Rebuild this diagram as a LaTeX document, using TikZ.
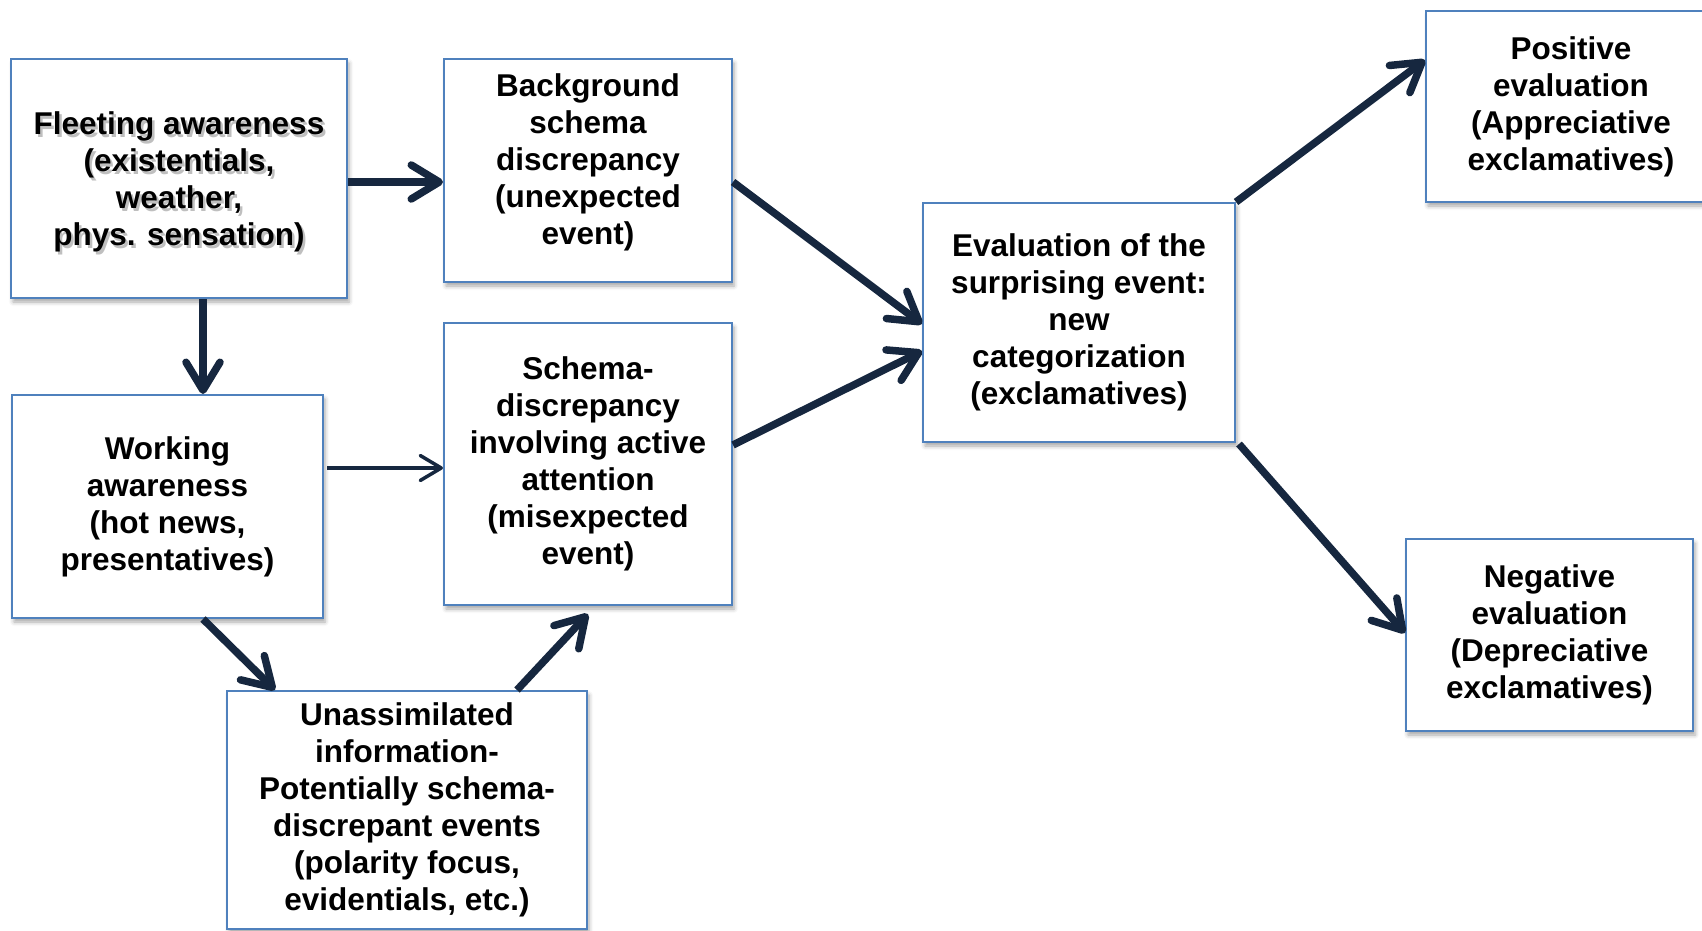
\documentclass[tikz,border=0pt]{standalone}
\usepackage{fontspec}
\setmainfont{Liberation Sans}
\usetikzlibrary{arrows.meta,calc,shadows.blur}

\definecolor{boxc}{HTML}{4F81BD}
\definecolor{arrowc}{HTML}{16273F}

\tikzset{
  label font/.style={font=\fontsize{31.5}{37}\selectfont\bfseries},
  caption/.style={align=center, text=black, label font, inner sep=0pt},
  stage/.style={draw=boxc, line width=2pt, fill=white, inner sep=0pt,
    align=center, text=black, label font,
    blur shadow={shadow xshift=2pt, shadow yshift=-4pt,
                 shadow blur radius=4pt, shadow opacity=35}},
  flow/.style={draw=arrowc, line width=7.5pt,
    -{Straight Barb[length=28pt, width=34pt, line cap=round, line join=round]}},
  thinflow/.style={draw=arrowc, line width=3.5pt,
    -{Straight Barb[length=21pt, width=25pt, line cap=round, line join=round]}},
}

\begin{document}
\begin{tikzpicture}[x=1pt, y=-1pt]
  \useasboundingbox (0,0) rectangle (1702,931);
  \clip (0,0) rectangle (1702,931);

  % stages
  \node[stage, minimum width=336pt, minimum height=239pt] (b1) at (179,178.5) {};
  % first title carries a soft text shadow
  \node[caption, text=black!55, opacity=0.45] (b1shade) at (181.5,184.5)
    {Fleeting awareness\\(existentials,\\weather,\\phys. sensation)};
  \node[caption] (b1text) at (179,182)
    {Fleeting awareness\\(existentials,\\weather,\\phys. sensation)};

  \node[stage, minimum width=288pt, minimum height=223pt] (b2) at (588,170.5) {};
  \node[caption] (b2text) at (588,162.5)
    {Background\\schema\\discrepancy\\(unexpected\\event)};

  \node[stage, minimum width=311pt, minimum height=223pt] (b3) at (167.5,506.5)
    {Working\\awareness\\(hot news,\\presentatives)};
  \node[stage, minimum width=288pt, minimum height=282pt] (b4) at (588,464)
    {Schema-\\discrepancy\\involving active\\attention\\(misexpected\\event)};
  \node[stage, minimum width=360pt, minimum height=238pt] (b5) at (407,810)
    {Unassimilated\\information-\\Potentially schema-\\discrepant events\\(polarity focus,\\evidentials, etc.)};
  \node[stage, minimum width=312pt, minimum height=239pt] (b6) at (1079,322.5)
    {Evaluation of the\\surprising event:\\new\\categorization\\(exclamatives)};
  \node[stage, minimum width=290pt, minimum height=191pt] (b7) at (1571,106.5)
    {Positive\\evaluation\\(Appreciative\\exclamatives)};
  \node[stage, minimum width=287pt, minimum height=192pt] (b8) at (1549.5,635)
    {Negative\\evaluation\\(Depreciative\\exclamatives)};

  % connectors
  \draw[flow] (b1.east |- 0,182) -- (b2.west |- 0,182);
  \draw[flow] (b1.south -| 203,0) -- (b3.north -| 203,0);
  \draw[thinflow] ($(b3.east |- 0,468)+(3,0)$) -- (b4.west |- 0,468);
  \draw[flow] (b3.south -| 203,0) -- (b5.north -| 275,0);
  \draw[flow] (b5.north -| 517,0) -- ($(b4.south -| 588,0)+(0,8)$);
  \draw[flow] (b2.east |- 0,182) -- (b6.west |- 0,324);
  \draw[flow] (b4.east |- 0,445) -- (b6.west |- 0,351);
  \draw[flow] (b6.north east) -- (b7.west |- 0,60);
  \draw[flow] ($(b6.south east)+(3,1)$) -- (b8.west |- 0,633);
\end{tikzpicture}
\end{document}
